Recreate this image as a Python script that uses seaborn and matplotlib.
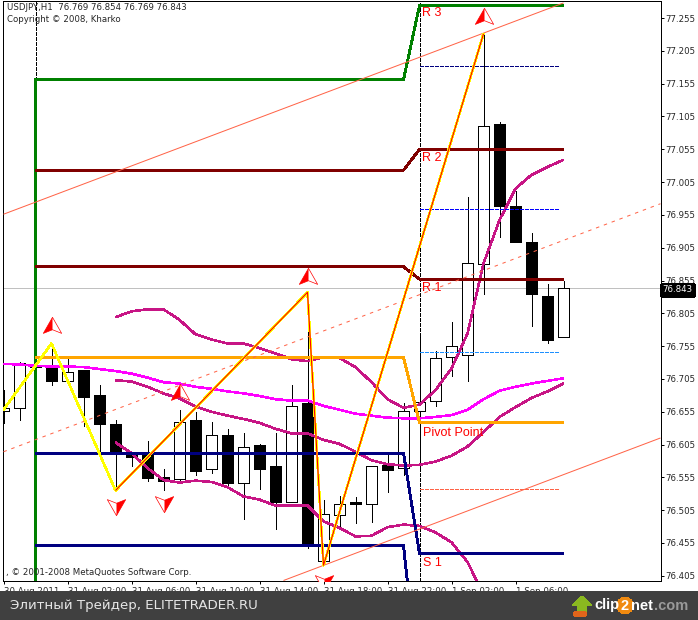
import matplotlib
matplotlib.use("Agg")
import matplotlib.pyplot as plt
import seaborn as sns
import pandas as pd
from matplotlib.patches import Circle, Polygon, Rectangle
from matplotlib.path import Path

# candles, one per hour
opens = [76.656, 76.661, 76.725, 76.724, 76.702, 76.719, 76.681, 76.637, 76.592, 76.590,
         76.556, 76.552, 76.642, 76.568, 76.619, 76.546, 76.604, 76.572, 76.517, 76.668,
         76.428, 76.498, 76.518, 76.515, 76.574, 76.570, 76.656, 76.672, 76.739, 76.742,
         76.880, 77.093, 76.969, 76.914, 76.831, 76.769]
highs = [76.688, 76.731, 76.726, 76.759, 76.736, 76.719, 76.696, 76.642, 76.592, 76.610,
         76.567, 76.658, 76.655, 76.640, 76.629, 76.622, 76.606, 76.622, 76.696, 76.837,
         76.521, 76.526, 76.525, 76.573, 76.590, 76.669, 76.769, 76.748, 76.791, 76.983,
         77.231, 77.097, 76.991, 76.928, 76.850, 76.854]
lows = [76.638, 76.642, 76.722, 76.695, 76.702, 76.634, 76.592, 76.535, 76.572, 76.549,
        76.536, 76.548, 76.559, 76.561, 76.540, 76.491, 76.538, 76.476, 76.517, 76.447,
        76.425, 76.477, 76.485, 76.487, 76.532, 76.558, 76.570, 76.663, 76.709, 76.702,
        76.834, 76.922, 76.913, 76.786, 76.759, 76.769]
closes = [76.661, 76.730, 76.723, 76.702, 76.716, 76.677, 76.636, 76.592, 76.586, 76.554,
          76.550, 76.640, 76.564, 76.620, 76.546, 76.602, 76.567, 76.517, 76.664, 76.452,
          76.499, 76.515, 76.514, 76.573, 76.566, 76.656, 76.670, 76.737, 76.7555, 76.882,
          77.091, 76.968, 76.913, 76.834, 76.765, 76.843]

ma_slow = [76.728, 76.727, 76.725, 76.724, 76.724, 76.723, 76.720, 76.717, 76.713, 76.707,
           76.700, 76.698, 76.693, 76.690, 76.686, 76.683, 76.679, 76.674, 76.672, 76.672,
           76.664, 76.658, 76.652, 76.649, 76.646, 76.645, 76.645, 76.647, 76.650, 76.658,
           76.674, 76.687, 76.693, 76.698, 76.702, 76.706]

# bands start at bar 7
band_upper = [76.799, 76.808, 76.811, 76.811, 76.795, 76.773, 76.765, 76.759, 76.759, 76.752,
              76.744, 76.735, 76.732, 76.738, 76.737, 76.723, 76.700, 76.674, 76.661, 76.666,
              76.688, 76.721, 76.774, 76.881, 76.947, 76.995, 77.016, 77.028, 77.039]
band_mid = [76.703, 76.701, 76.693, 76.683, 76.675, 76.663, 76.655, 76.649, 76.644, 76.638,
            76.629, 76.622, 76.622, 76.612, 76.606, 76.594, 76.581, 76.575, 76.573, 76.574,
            76.579, 76.588, 76.602, 76.624, 76.647, 76.662, 76.676, 76.686, 76.698]
band_lower = [76.608, 76.592, 76.569, 76.551, 76.547, 76.550, 76.548, 76.540, 76.526, 76.521,
              76.512, 76.512, 76.512, 76.488, 76.478, 76.465, 76.466, 76.479, 76.483, 76.481,
              76.471, 76.456, 76.426, 76.376]

zigzag_x = [0, 3, 7, 19, 20, 30]
zigzag_y = [76.658, 76.759, 76.535, 76.837, 76.421, 77.231]

# pivot levels, day one then day two
pivot_x = [2, 25, 26, 35]
r2_y = [77.023, 77.023, 77.055, 77.055]
r1_y = [76.876, 76.876, 76.857, 76.857]
pp_y = [76.738, 76.738, 76.638, 76.638]
s1_y = [76.592, 76.592, 76.439, 76.439]
s2_y = [76.451, 76.451, 76.223]
r3_x = [2, 2, 25, 26, 35]
r3_y = [76.30, 77.161, 77.161, 77.274, 77.274]

channel_top = ([0, 35], [76.956, 77.278])
channel_mid = ([0, 41.06], [76.594, 76.972])
channel_low = ([17.5, 41.06], [76.3978, 76.615])

fib_x = [26, 34.8]
fib_levels = [77.182, 76.964, 76.746, 76.5375]
fib_colors = ["#000080", "#0000ff", "#1e90ff", "#ff6347"]

up_x = [3, 11, 19, 30]
up_y = [76.785, 76.683, 76.861, 77.257]
down_x = [7, 10, 20]
down_y = [76.512, 76.516, 76.396]

price_ticks = [76.405, 76.455, 76.505, 76.555, 76.605, 76.655, 76.705, 76.755, 76.805, 76.855,
               76.905, 76.955, 77.005, 77.055, 77.105, 77.155, 77.205, 77.255]
time_ticks = [0, 4, 8, 12, 16, 20, 24, 28, 32]
time_labels = ["30 Aug 2011", "31 Aug 02:00", "31 Aug 06:00", "31 Aug 10:00", "31 Aug 14:00",
               "31 Aug 18:00", "31 Aug 22:00", "1 Sep 02:00", "1 Sep 06:00"]
last_price = 76.843

W, H = 698, 620
sns.set_style("white")
plt.rcParams["font.family"] = ["DejaVu Sans"]
plt.rcParams["lines.antialiased"] = False
plt.rcParams["patch.antialiased"] = False
plt.rcParams["lines.solid_capstyle"] = "butt"
plt.rcParams["lines.scale_dashes"] = False

THICK = 1.15
LEVEL = 1.35
THIN = 0.5
SHORT_DASH = (0, (2.2, 1.4))
LONG_DASH = (0, (2.5, 3.5))
MARKER_SIZE = 175
TICK_FONT = 6.2

fig = plt.figure(figsize=(W / 100, H / 100), dpi=100)
ax = fig.add_axes([2.5 / W, 1 - 580.5 / H, 658 / W, 580 / H])

df = pd.DataFrame({"open": opens, "high": highs, "low": lows, "close": closes})
df["bar"] = df.index
df["bottom"] = df[["open", "close"]].min(axis=1)
df["size"] = (df["close"] - df["open"]).abs()
df["up"] = df["close"] >= df["open"]

# candles go under the indicators
ax.vlines(df["bar"], df["low"], df["high"], color="black", lw=0.72, zorder=2)
up = df[df["up"]]
down = df[~df["up"]]
ax.bar(up["bar"], up["size"], bottom=up["bottom"], width=0.64, color="white",
       edgecolor="black", linewidth=0.72, zorder=3)
ax.bar(down["bar"], down["size"], bottom=down["bottom"], width=0.64, color="black",
       edgecolor="black", linewidth=0.72, zorder=3)


def draw(x, y, color, lw=THICK, ls="-", zorder=4, smooth=False):
    sns.lineplot(x=x, y=y, ax=ax, color=color, linewidth=lw, linestyle=ls,
                 estimator=None, sort=False, legend=False, zorder=zorder,
                 antialiased=smooth)


ax.axhline(last_price, color="#c0c0c0", lw=THIN, zorder=1)
ax.axvline(2, ymin=1 - 79 / 580, color="black", lw=THIN, ls=SHORT_DASH, zorder=1)
ax.axvline(26, color="black", lw=THIN, ls=SHORT_DASH, zorder=1)

bars = list(range(36))
draw(bars[7:], band_upper, "#c71585")
draw(bars[7:], band_mid, "#c71585")
draw(bars[7:7 + len(band_lower)], band_lower, "#c71585")
draw(bars, ma_slow, "#ff00ff")

draw(r3_x, r3_y, "#008000", lw=LEVEL)
draw(pivot_x, r2_y, "#800000", lw=LEVEL)
draw(pivot_x, r1_y, "#800000", lw=LEVEL)
draw(pivot_x, pp_y, "#ffa500", lw=LEVEL)
draw(pivot_x, s1_y, "#000080", lw=LEVEL)
draw(pivot_x[:3], s2_y, "#000080", lw=LEVEL)

draw(*channel_top, "#ff6347", lw=0.72, smooth=True)
draw(*channel_mid, "#ff6347", lw=0.72, ls=LONG_DASH, smooth=True)
draw(*channel_low, "#ff6347", lw=0.72, smooth=True)

for level, color in zip(fib_levels, fib_colors):
    draw(fib_x, [level, level], color, lw=THIN, ls=SHORT_DASH)

draw(zigzag_x, zigzag_y, "#ffff00", lw=THICK, zorder=5)
draw(zigzag_x[2:], zigzag_y[2:], "#ff0000", lw=0.8, zorder=6, smooth=True)

# arrow markers: half filled, half outlined
up_outline = Path([(0, 1), (1, -0.75), (0, -0.35), (-1, -0.75), (0, 1)], closed=True)
up_half = Path([(0, 1), (0, -0.35), (-1, -0.75), (0, 1)], closed=True)
down_outline = Path([(0, -1), (1, 0.75), (0, 0.35), (-1, 0.75), (0, -1)], closed=True)
down_half = Path([(0, -1), (0, 0.35), (1, 0.75), (0, -1)], closed=True)
ax.scatter(up_x, up_y, marker=up_outline, s=MARKER_SIZE, facecolor="white", edgecolor="red",
           linewidth=THIN, zorder=7)
ax.scatter(up_x, up_y, marker=up_half, s=MARKER_SIZE, color="red", linewidth=0, zorder=8)
ax.scatter(down_x, down_y, marker=down_outline, s=MARKER_SIZE, facecolor="white", edgecolor="red",
           linewidth=THIN, zorder=7)
ax.scatter(down_x, down_y, marker=down_half, s=MARKER_SIZE, color="red", linewidth=0, zorder=8)

label_font = ["Liberation Sans"]
for x, y, label in [(26.15, 77.262, "R 3"), (26.15, 77.041, "R 2"), (26.15, 76.843, "R 1"),
                    (26.2, 76.622, "Pivot Point"), (26.2, 76.425, "S 1")]:
    ax.text(x, y, label, color="#ff0000", fontsize=9, family=label_font, va="center", zorder=9)

# axes limits follow the 76.405..77.255 tick spacing
ax.set_xlim((2.5 - 3.5) / 16, (660.5 - 3.5) / 16)
ax.set_ylim(76.855 + (280.5 - 580.5) * 0.001524, 76.855 + (280.5 - 0.5) * 0.001524)

ax.yaxis.tick_right()
ax.set_yticks(price_ticks)
ax.set_yticklabels([f"{v:.3f}" for v in price_ticks], fontsize=TICK_FONT)
ax.set_xticks(time_ticks)
ax.set_xticklabels(time_labels, fontsize=TICK_FONT, ha="left")
ax.tick_params(axis="both", length=2.2, width=0.72, color="black", pad=1.5, bottom=True, right=True)
ax.tick_params(axis="x", pad=2.5)
for spine in ax.spines.values():
    spine.set_color("black")
    spine.set_linewidth(0.72)

ax.text(1.003, 76.841, "76.843", transform=ax.get_yaxis_transform(), color="white", fontsize=TICK_FONT,
        va="center", ha="left", zorder=10, clip_on=False,
        bbox=dict(facecolor="black", edgecolor="black", pad=1.2))

fig.text(7 / W, 1 - 8 / H, "USDJPY,H1  76.769 76.854 76.769 76.843", fontsize=TICK_FONT, va="center")
fig.text(7 / W, 1 - 19 / H, "Copyright © 2008, Kharko", fontsize=TICK_FONT, va="center")
fig.text(6 / W, 1 - 572.5 / H, ", © 2001-2008 MetaQuotes Software Corp.", fontsize=TICK_FONT, va="center")

# screenshot footer
fig.add_artist(Rectangle((0, 0), 1, 28 / H, transform=fig.transFigure, color="#404040", zorder=5))
fig.text(10 / W, 1 - 605.5 / H, "Элитный Трейдер, ELITETRADER.RU", color="#e6e6e6", fontsize=9.65,
         va="center", zorder=6)


def fx(x, y):
    return (x / W, 1 - y / H)


fig.add_artist(Polygon([fx(582, 597), fx(591, 605), fx(586, 605), fx(586, 612), fx(578, 612),
                        fx(578, 605), fx(573, 605)], transform=fig.transFigure,
                       color="#8ab820", zorder=6))
fig.add_artist(Rectangle(fx(574, 615), 11 / W, 3.5 / H, transform=fig.transFigure,
                         color="#e0651b", zorder=6))
brand_y = 1 - 605.5 / H
brand_size = 10.5
fig.text(594 / W, brand_y, "clip", color="white", fontsize=brand_size, fontweight="bold",
         family=label_font, va="center", zorder=7)
fig.add_artist(Circle((625, H - 605.5), 7.5, transform=None, color="#f08a10", zorder=6))
fig.text(625 / W, brand_y, "2", color="white", fontsize=brand_size, fontweight="bold",
         family=label_font, va="center", ha="center", zorder=7)
fig.text(631 / W, brand_y, "net", color="white", fontsize=brand_size, fontweight="bold",
         family=label_font, va="center", zorder=7)
fig.text(654 / W, brand_y, ".com", color="#9a9a9a", fontsize=brand_size, fontweight="bold",
         family=label_font, va="center", zorder=7)

fig.savefig("out.png", dpi=100)
